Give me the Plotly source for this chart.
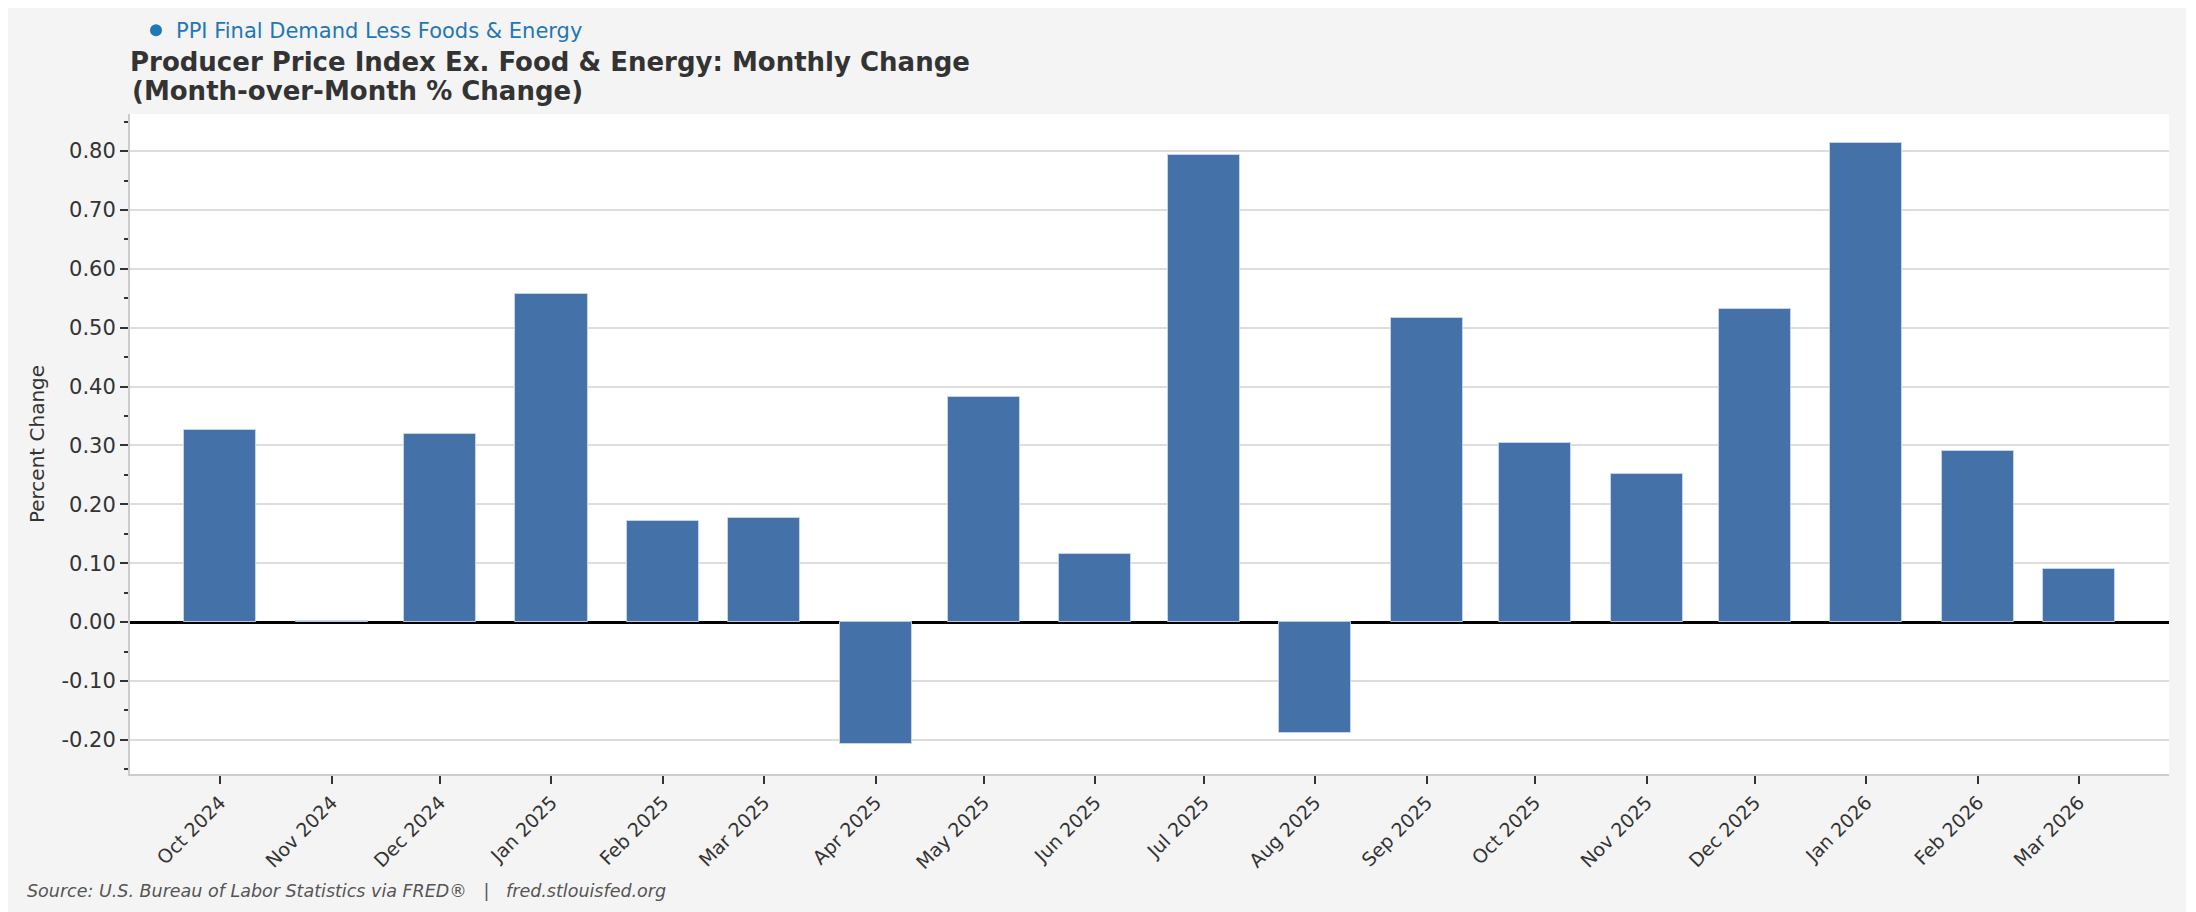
import plotly.graph_objects as go

months = ["2024-10-01", "2024-11-01", "2024-12-01", "2025-01-01", "2025-02-01", "2025-03-01",
          "2025-04-01", "2025-05-01", "2025-06-01", "2025-07-01", "2025-08-01", "2025-09-01",
          "2025-10-01", "2025-11-01", "2025-12-01", "2026-01-01", "2026-02-01", "2026-03-01"]
tick_labels = ["Oct 2024", "Nov 2024", "Dec 2024", "Jan 2025", "Feb 2025", "Mar 2025",
               "Apr 2025", "May 2025", "Jun 2025", "Jul 2025", "Aug 2025", "Sep 2025",
               "Oct 2025", "Nov 2025", "Dec 2025", "Jan 2026", "Feb 2026", "Mar 2026"]
pct_change = [0.326, 0.002, 0.319, 0.558, 0.172, 0.177,
              -0.207, 0.383, 0.115, 0.793, -0.188, 0.517,
              0.304, 0.252, 0.532, 0.813, 0.290, 0.090]
y_ticks = [-0.2, -0.1, 0.0, 0.1, 0.2, 0.3, 0.4, 0.5, 0.6, 0.7, 0.8]
y_tick_text = ["%.2f" % v for v in y_ticks]

series_name = "PPI Final Demand Less Foods & Energy"
title_line1 = "<b>Producer Price Index Ex. Food & Energy: Monthly Change</b>"
title_line2 = "<b>(Month-over-Month % Change)</b>"
source_text = "Source: U.S. Bureau of Labor Statistics via FRED®   |   fred.stlouisfed.org"

FONT = "DejaVu Sans"
BAR_COLOR = "#4471A7"
DAY_MS = 86400000
W, H = 2178, 912
L, R, T, B = 122, 17, 106, 146
PW, PH = W - L - R, H - T - B

fig = go.Figure()
fig.add_trace(go.Bar(
    x=months, y=pct_change, width=20 * DAY_MS,
    marker=dict(color=BAR_COLOR, line=dict(color="rgba(200,215,235,0.9)", width=1)),
    showlegend=False, name=series_name,
))
fig.add_trace(go.Scatter(
    x=[None], y=[None], mode="markers", name=series_name,
    marker=dict(color="#1f77b4", size=18, symbol="circle"), showlegend=True,
))

fig.update_layout(
    width=W, height=H,
    paper_bgcolor="#f4f4f4", plot_bgcolor="#ffffff",
    margin=dict(l=L, r=R, t=T, b=B, autoexpand=False),
    font=dict(family=FONT, color="#333333"),
    title=dict(text=title_line1, x=L / W, xanchor="left", xref="container",
               y=1 - 54 / H, yanchor="middle", yref="container",
               font=dict(family=FONT, size=26, color="#333333")),
    legend=dict(x=6 / PW, xanchor="left", y=(H - B - 2) / PH, yanchor="top", orientation="h",
                bgcolor="rgba(0,0,0,0)", font=dict(family=FONT, size=21, color="#1f77b4"),
                itemsizing="constant"),
    bargap=0,
)

fig.update_xaxes(
    type="date", range=["2024-09-06", "2026-03-26"],
    tickvals=months, ticktext=tick_labels, tickangle=-45,
    ticks="outside", ticklen=8, tickwidth=1.5, tickcolor="#333333",
    tickfont=dict(family=FONT, size=19, color="#333333"),
    showgrid=False, showline=True, linecolor="#cccccc", linewidth=2, mirror=False,
    zeroline=False,
)
fig.update_yaxes(
    range=[-0.258, 0.863],
    tickvals=y_ticks, ticktext=y_tick_text,
    ticks="outside", ticklen=8, tickwidth=1.5, tickcolor="#333333",
    tickfont=dict(family=FONT, size=21, color="#333333"),
    minor=dict(dtick=0.05, tick0=0, ticks="outside", ticklen=4, tickwidth=1.5,
               tickcolor="#333333", showgrid=False),
    showgrid=True, gridcolor="#dddddd", gridwidth=1.5,
    showline=True, linecolor="#cccccc", linewidth=2,
    zeroline=True, zerolinecolor="#000000", zerolinewidth=2.5,
    title=dict(text="Percent Change", font=dict(family=FONT, size=20, color="#333333"), standoff=11),
)

fig.add_annotation(
    text=title_line2, xref="paper", yref="paper",
    x=0, xanchor="left", y=(H - B - 83) / PH, yanchor="middle",
    showarrow=False, font=dict(family=FONT, size=26, color="#333333"),
)
fig.add_annotation(
    text="<i>" + source_text + "</i>", xref="paper", yref="paper",
    x=(17 - L) / PW, xanchor="left", y=-(883 - (H - B)) / PH, yanchor="middle",
    showarrow=False, font=dict(family=FONT, size=17.5, color="#555555"),
)

fig.write_html("out.html")
